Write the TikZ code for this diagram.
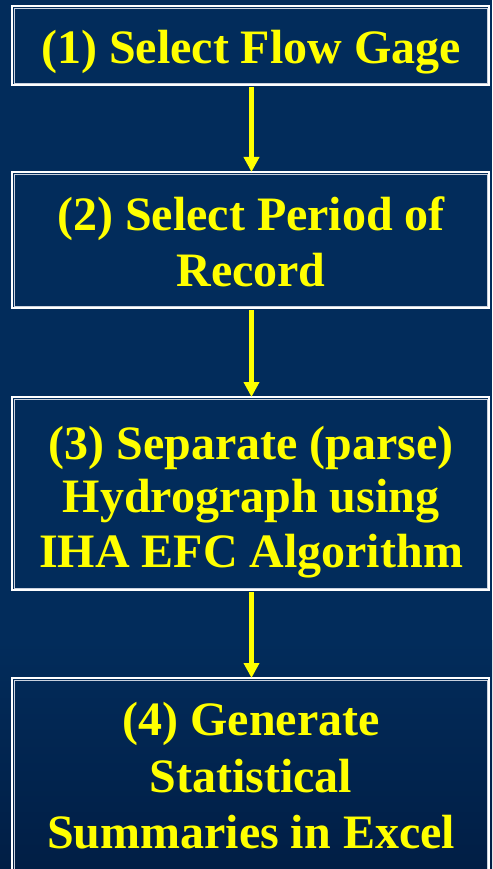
\documentclass[tikz,border=0pt]{standalone}
\usepackage{fontspec}
\setmainfont{Liberation Serif}
\usetikzlibrary{arrows.meta}
\definecolor{slidebg}{HTML}{022C5B}
\definecolor{slidebgdark}{HTML}{011E45}
\definecolor{innerline}{HTML}{C9D1DE}
\definecolor{labelyellow}{HTML}{FFFF00}
\tikzset{
  stepbox/.style={draw=white, line width=2pt, inner sep=0pt, fill=none},
  innerframe/.style={draw=innerline, line width=0.9pt},
  steptext/.style={text=labelyellow, inner sep=0pt, anchor=base,
    font=\bfseries\fontsize{48}{56}\selectfont},
  flowarrow/.style={draw=labelyellow, line width=5pt,
    -{Triangle[width=15pt,length=15pt]}, shorten <=1pt}
}
\begin{document}
\begin{tikzpicture}[x=1pt,y=-1pt]
  % page background
  \useasboundingbox (0,0) rectangle (492,869);
  \clip (0,0) rectangle (492,869);
  \fill[slidebg] (0,0) rectangle (492,869);
  \shade[top color=slidebg, bottom color=slidebgdark] (0,640) rectangle (492,869);

  % step boxes
  \node[stepbox, minimum width=477pt, minimum height=79pt]  (b1) at (250.5,45.5)  {};
  \node[stepbox, minimum width=477pt, minimum height=136pt] (b2) at (250.5,240)   {};
  \node[stepbox, minimum width=477pt, minimum height=193pt] (b3) at (250.5,493.5) {};
  \node[stepbox, minimum width=477pt, minimum height=221pt] (b4) at (250.5,788.5) {};
  \foreach \b in {b1,b2,b3,b4}
    \draw[innerframe] ([shift={(3,3)}]\b.north west) rectangle ([shift={(-3,-3)}]\b.south east);

  % labels
  \node[steptext] (t1)  at (251,63.3) {(1) Select Flow Gage};
  \node[steptext] (t2a) at (251,230)  {(2) Select Period of};
  \node[steptext] (t2b) at (251,286)  {Record};
  \node[steptext] (t3a) at (251,459)  {(3) Separate (parse)};
  \node[steptext] (t3b) at (251,512)  {Hydrograph using};
  \node[steptext] (t3c) at (251,567)  {IHA EFC Algorithm};
  \node[steptext] (t4a) at (251,735)  {(4) Generate};
  \node[steptext] (t4b) at (251,792)  {Statistical};
  \node[steptext] (t4c) at (251,848)  {Summaries in Excel};

  % connectors
  \draw[flowarrow] ([xshift=1pt]b1.south) -- ([xshift=1pt,yshift=-1pt]b2.north);
  \draw[flowarrow] ([xshift=1pt]b2.south) -- ([xshift=1pt,yshift=-1pt]b3.north);
  \draw[flowarrow] ([xshift=1pt]b3.south) -- ([xshift=1pt,yshift=-1pt]b4.north);
\end{tikzpicture}
\end{document}
